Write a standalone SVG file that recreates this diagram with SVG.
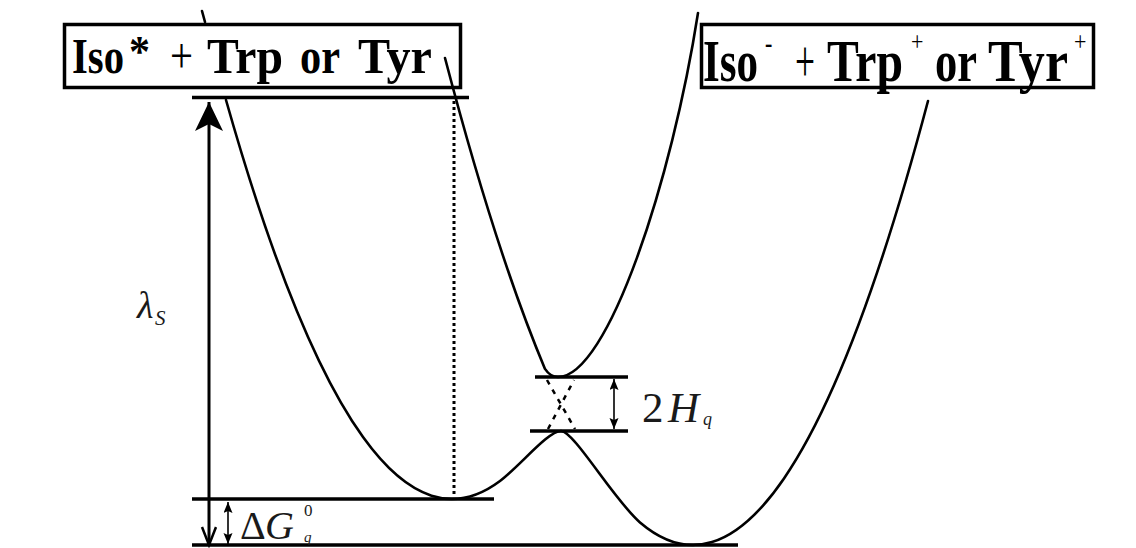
<svg xmlns="http://www.w3.org/2000/svg" width="1136" height="548" viewBox="0 0 1136 548">
<style>
.box{fill:#fff;stroke:#000;stroke-width:3.5}
.lvl{stroke:#000;stroke-width:3.5;fill:none}
.crv{stroke:#000;stroke-width:2.6;fill:none;stroke-linecap:round}
.hdr{font-family:"Liberation Serif","Times New Roman",serif;font-weight:bold;font-size:46px;fill:#000}
.math{font-family:"Liberation Serif","Times New Roman",serif;fill:#1a1a1a}
</style>
<defs>
<marker id="big" markerUnits="userSpaceOnUse" markerWidth="30" markerHeight="30" refX="29" refY="14" orient="auto-start-reverse">
<path d="M0,0 L29,14 L0,28 L7,14 z" fill="#000"/>
</marker>
<marker id="openV" markerUnits="userSpaceOnUse" markerWidth="22" markerHeight="18" refX="19" refY="8" orient="auto-start-reverse">
<path d="M1,1 L19,8 L1,15" fill="none" stroke="#000" stroke-width="2.5"/>
</marker>
<marker id="sm" markerUnits="userSpaceOnUse" markerWidth="12" markerHeight="10" refX="11" refY="4.5" orient="auto-start-reverse">
<path d="M0,0 L11,4.5 L0,9 L2,4.5 z" fill="#000"/>
</marker>
</defs>
<rect width="1136" height="548" fill="#fff"/>

<g id="reactant-box">
<rect class="box" x="64.5" y="24.5" width="396" height="63"/>
<text class="hdr" transform="translate(0,73) scale(1,1.1)"><tspan x="72" y="0" textLength="52" lengthAdjust="spacingAndGlyphs">Iso</tspan><tspan x="129" y="-6" font-size="40" textLength="21" lengthAdjust="spacingAndGlyphs">*</tspan><tspan x="170" y="0" font-weight="normal" textLength="23" lengthAdjust="spacingAndGlyphs">+</tspan><tspan x="207" y="0" textLength="76" lengthAdjust="spacingAndGlyphs">Trp</tspan><tspan x="300" y="0" textLength="40" lengthAdjust="spacingAndGlyphs">or</tspan><tspan x="358" y="0" textLength="74" lengthAdjust="spacingAndGlyphs">Tyr</tspan></text>
</g>

<g id="product-box">
<rect class="box" x="701.5" y="24.5" width="392" height="63"/>
<text class="hdr" transform="translate(0,81) scale(1,1.27)"><tspan x="703" y="0" textLength="55" lengthAdjust="spacingAndGlyphs">Iso</tspan><tspan x="765" y="-23" font-size="22">-</tspan><tspan x="795" y="0" font-weight="normal" textLength="20" lengthAdjust="spacingAndGlyphs">+</tspan><tspan x="827" y="0" textLength="76" lengthAdjust="spacingAndGlyphs">Trp</tspan><tspan x="911" y="-24" font-size="22" font-weight="normal">+</tspan><tspan x="935" y="0" textLength="42" lengthAdjust="spacingAndGlyphs">or</tspan><tspan x="988" y="0" textLength="80" lengthAdjust="spacingAndGlyphs">Tyr</tspan><tspan x="1074" y="-24" font-size="22" font-weight="normal">+</tspan></text>
</g>

<g id="levels">
<line class="lvl" x1="192" y1="97.5" x2="469" y2="97.5"/>
<line class="lvl" x1="192" y1="499" x2="494" y2="499"/>
<line class="lvl" x1="192" y1="545" x2="738" y2="545"/>
<line class="lvl" stroke-width="3" x1="535" y1="377" x2="628" y2="377"/>
<line class="lvl" stroke-width="3" x1="530" y1="431" x2="628" y2="431"/>
</g>

<g id="curves">
<line class="crv" x1="202" y1="11" x2="205" y2="22"/>
<path class="crv" d="M226,100 Q363,583.7 500,481 C520,466 548,431 561,431 C574,431 614,500.2 640,522.4 Q784,645.1 928,101"/>
<path class="crv" d="M445,58 Q496,252.3 545,368.9 C549,375 553,377 558,377 C608,377 672,180 698,13"/>
<line x1="454" y1="101" x2="454" y2="497" stroke="#000" stroke-width="3" stroke-dasharray="3 3"/>
<line x1="548" y1="429" x2="574" y2="380" stroke="#000" stroke-width="2.5" stroke-dasharray="5 6"/>
<line x1="547" y1="380" x2="575" y2="429" stroke="#000" stroke-width="2.5" stroke-dasharray="5 6"/>
</g>

<g id="arrows">
<line x1="209" y1="545" x2="209" y2="102" stroke="#000" stroke-width="3" marker-start="url(#openV)" marker-end="url(#big)"/>
<line x1="228" y1="502" x2="228" y2="544" stroke="#000" stroke-width="1.6" marker-start="url(#sm)" marker-end="url(#sm)"/>
<line x1="614" y1="379" x2="614" y2="429" stroke="#000" stroke-width="1.6" marker-start="url(#sm)" marker-end="url(#sm)"/>
</g>

<g id="labels">
<text class="math" x="137" y="318" font-size="38" font-style="italic" fill="#333">λ</text>
<text class="math" x="155" y="325" font-size="21" font-style="italic" fill="#333">S</text>
<text class="math" x="240" y="539" font-size="40">Δ</text>
<text class="math" x="265" y="539" font-size="40" font-style="italic">G</text>
<text class="math" x="304" y="516" font-size="17">0</text>
<text class="math" x="304" y="542" font-size="15" font-style="italic">q</text>
<text class="math" x="642" y="422" font-size="43">2</text>
<text class="math" x="668" y="422" font-size="43" font-style="italic">H</text>
<text class="math" x="703" y="425" font-size="18" font-style="italic">q</text>
</g>
</svg>
